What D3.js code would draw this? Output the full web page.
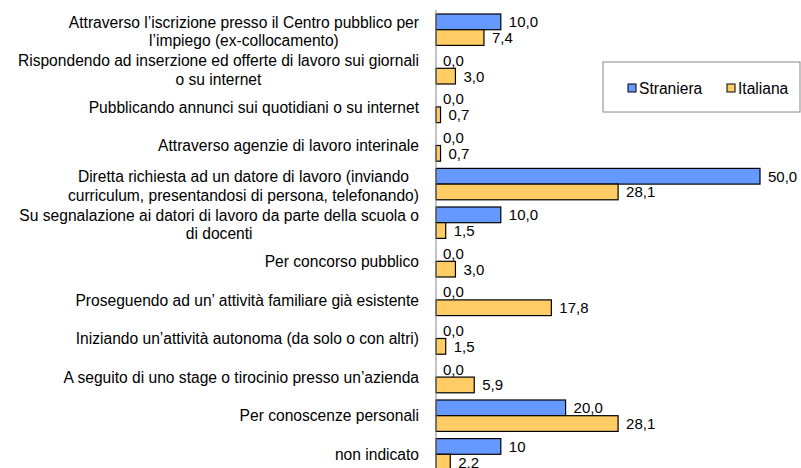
<!DOCTYPE html>
<html><head><meta charset="utf-8">
<script src="https://cdn.jsdelivr.net/npm/d3@7"></script>
<style>
html,body{margin:0;padding:0;background:#fff;}
svg{display:block;font-family:"Liberation Sans",Arial,sans-serif;}
</style></head>
<body>
<svg id="chart" width="801" height="468"></svg>
<script>
const categories = [
  ["Attraverso l\u2019iscrizione presso il Centro pubblico per", "l\u2019impiego (ex-collocamento)"],
  ["Rispondendo ad inserzione ed offerte di lavoro sui giornali", "o su internet"],
  ["Pubblicando annunci sui quotidiani o su internet"],
  ["Attraverso agenzie di lavoro interinale"],
  ["Diretta richiesta ad un datore di lavoro (inviando", "curriculum, presentandosi di persona, telefonando)"],
  ["Su segnalazione ai datori di lavoro da parte della scuola o", "di docenti"],
  ["Per concorso pubblico"],
  ["Proseguendo  ad un\u2019 attivit\u00e0 familiare gi\u00e0 esistente"],
  ["Iniziando un\u2019attivit\u00e0 autonoma (da solo o con altri)"],
  ["A seguito di uno stage o tirocinio presso un\u2019azienda"],
  ["Per conoscenze personali"],
  ["non indicato"]
];
const seriesNames = ["Straniera", "Italiana"];
const straniera = [10.0, 0.0, 0.0, 0.0, 50.0, 10.0, 0.0, 0.0, 0.0, 0.0, 20.0, 10];
const italiana  = [7.4, 3.0, 0.7, 0.7, 28.1, 1.5, 3.0, 17.8, 1.5, 5.9, 28.1, 2.2];
const stranieraLabels = ["10,0","0,0","0,0","0,0","50,0","10,0","0,0","0,0","0,0","0,0","20,0","10"];
const italianaLabels  = ["7,4","3,0","0,7","0,7","28,1","1,5","3,0","17,8","1,5","5,9","28,1","2,2"];
const colors = ["#6699FF", "#FFCC66"];

const svg = d3.select("#chart");
const ids = categories.map((c, i) => i);

const y = d3.scaleBand().domain(ids).range([10.4, 473.6])
  .paddingInner(0.1865).paddingOuter(0.0933);
const ySub = d3.scaleBand().domain(seriesNames).range([0, y.bandwidth()]);
const x = d3.scaleLinear().domain([0, 50]).range([436, 760]);

const rows = ids.map(i => ({
  i,
  vals: [
    {s: "Straniera", v: straniera[i], lab: stranieraLabels[i], c: colors[0]},
    {s: "Italiana", v: italiana[i], lab: italianaLabels[i], c: colors[1]}
  ]
}));

const g = svg.append("g");
const groups = g.selectAll("g.cat").data(rows).join("g")
  .attr("class", "cat")
  .attr("transform", d => `translate(0,${y(d.i)})`);

groups.selectAll("rect").data(d => d.vals.filter(v => v.v > 0)).join("rect")
  .attr("x", x(0))
  .attr("y", d => ySub(d.s))
  .attr("width", d => x(d.v) - x(0))
  .attr("height", ySub.bandwidth())
  .attr("fill", d => d.c)
  .attr("stroke", "#000")
  .attr("stroke-width", 1.2);

groups.selectAll("text.val").data(d => d.vals).join("text")
  .attr("class", "val")
  .attr("x", d => x(d.v) + (d.v > 0 ? 8 : 7))
  .attr("y", d => ySub(d.s) + ySub.bandwidth() / 2)
  .attr("dy", "0.36em")
  .attr("font-size", 15)
  .attr("fill", "#000")
  .text(d => d.lab);

// axis (domain line only)
const axis = d3.axisLeft(y).tickSize(0).tickFormat("");
svg.append("g").attr("transform", `translate(${x(0)},0)`).call(axis)
  .call(a => a.select(".domain").attr("stroke", "#888").attr("d", `M0,10V474`));

// category labels
const lineH = 18.6;
const labs = svg.append("g").selectAll("text.cat").data(rows).join("text")
  .attr("class", "cat")
  .attr("text-anchor", "middle")
  .attr("font-size", 15.6)
  .attr("fill", "#000");
labs.each(function(d) {
  const lines = categories[d.i];
  const sel = d3.select(this);
  const tmp = sel.selectAll("tspan").data(lines).join("tspan").text(t => t);
  let maxW = 0;
  tmp.each(function() { maxW = Math.max(maxW, this.getComputedTextLength()); });
  const cx = 419 - maxW / 2;
  const cy = y(d.i) + y.bandwidth() / 2 + (lines.length > 1 ? 1.5 : 0);
  tmp.attr("x", cx)
    .attr("y", (t, k) => cy + (k - (lines.length - 1) / 2) * lineH)
    .attr("dy", "0.36em");
});

// legend
const lg = svg.append("g");
lg.append("rect").attr("x", 603).attr("y", 62).attr("width", 197).attr("height", 50)
  .attr("fill", "#fff").attr("stroke", "#888").attr("stroke-width", 1);
const items = lg.selectAll("g.item").data(seriesNames).join("g").attr("class", "item")
  .attr("transform", (d, k) => `translate(${k === 0 ? 628 : 727},84)`);
items.append("rect").attr("width", 8).attr("height", 8)
  .attr("fill", (d, k) => colors[k]).attr("stroke", "#000").attr("stroke-width", 1);
items.append("text").attr("x", 11).attr("y", 9.5).attr("font-size", 15.6).attr("fill", "#000")
  .text(d => d);
</script>
</body></html>
